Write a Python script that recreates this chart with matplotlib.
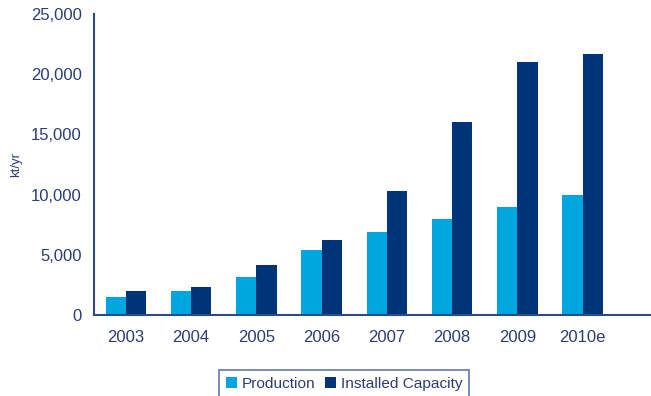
import matplotlib
matplotlib.use("Agg")
import matplotlib.pyplot as plt
import numpy as np

plt.rcParams['font.family'] = ['Liberation Sans', 'DejaVu Sans']

years = ["2003", "2004", "2005", "2006", "2007", "2008", "2009", "2010e"]
production = [1520, 2020, 3180, 5370, 6870, 8000, 9000, 10000]
installed_capacity = [2020, 2350, 4180, 6200, 10330, 16000, 21000, 21680]
y_ticks = [0, 5000, 10000, 15000, 20000, 25000]

light_blue = "#00a6e0"
navy = "#003479"
text_color = "#2b3c78"
axis_color = "#2a4a8c"

fig = plt.figure(figsize=(6.51, 3.96), dpi=100)
ax = fig.add_axes([94 / 651, (396 - 315) / 396, (651 - 94) / 651, (315 - 14) / 396])

x = np.arange(len(years))
w = 0.31
ax.bar(x - w / 2, production, width=w, color=light_blue, label="Production")
ax.bar(x + w / 2, installed_capacity, width=w, color=navy, label="Installed Capacity")

ax.set_xlim(-0.49, 8.05)
ax.set_ylim(0, 25000)
ax.set_yticks(y_ticks)
ax.set_yticklabels([f"{v:,}" for v in y_ticks])
ax.set_xticks(x)
ax.set_xticklabels(years)

for s in ["top", "right"]:
    ax.spines[s].set_visible(False)
for s in ["left", "bottom"]:
    ax.spines[s].set_color(axis_color)
    ax.spines[s].set_linewidth(1.5)

ax.tick_params(axis="both", length=0, labelsize=12, colors=text_color)
ax.tick_params(axis="y", pad=9)
ax.tick_params(axis="x", pad=11)
ax.set_ylabel("kt/yr", fontsize=9.5, color=text_color, labelpad=6)

leg = fig.legend(loc="upper center", bbox_to_anchor=(344 / 651, 1 - 362 / 396),
                 ncol=2, fontsize=11.1, frameon=True, fancybox=False,
                 handlelength=0.75, handleheight=0.75, handletextpad=0.3,
                 columnspacing=0.6, borderpad=0.45, labelcolor=text_color)
leg.get_frame().set_edgecolor("#3a5690")
leg.get_frame().set_linewidth(1.2)

fig.savefig("out.png", dpi=100)
